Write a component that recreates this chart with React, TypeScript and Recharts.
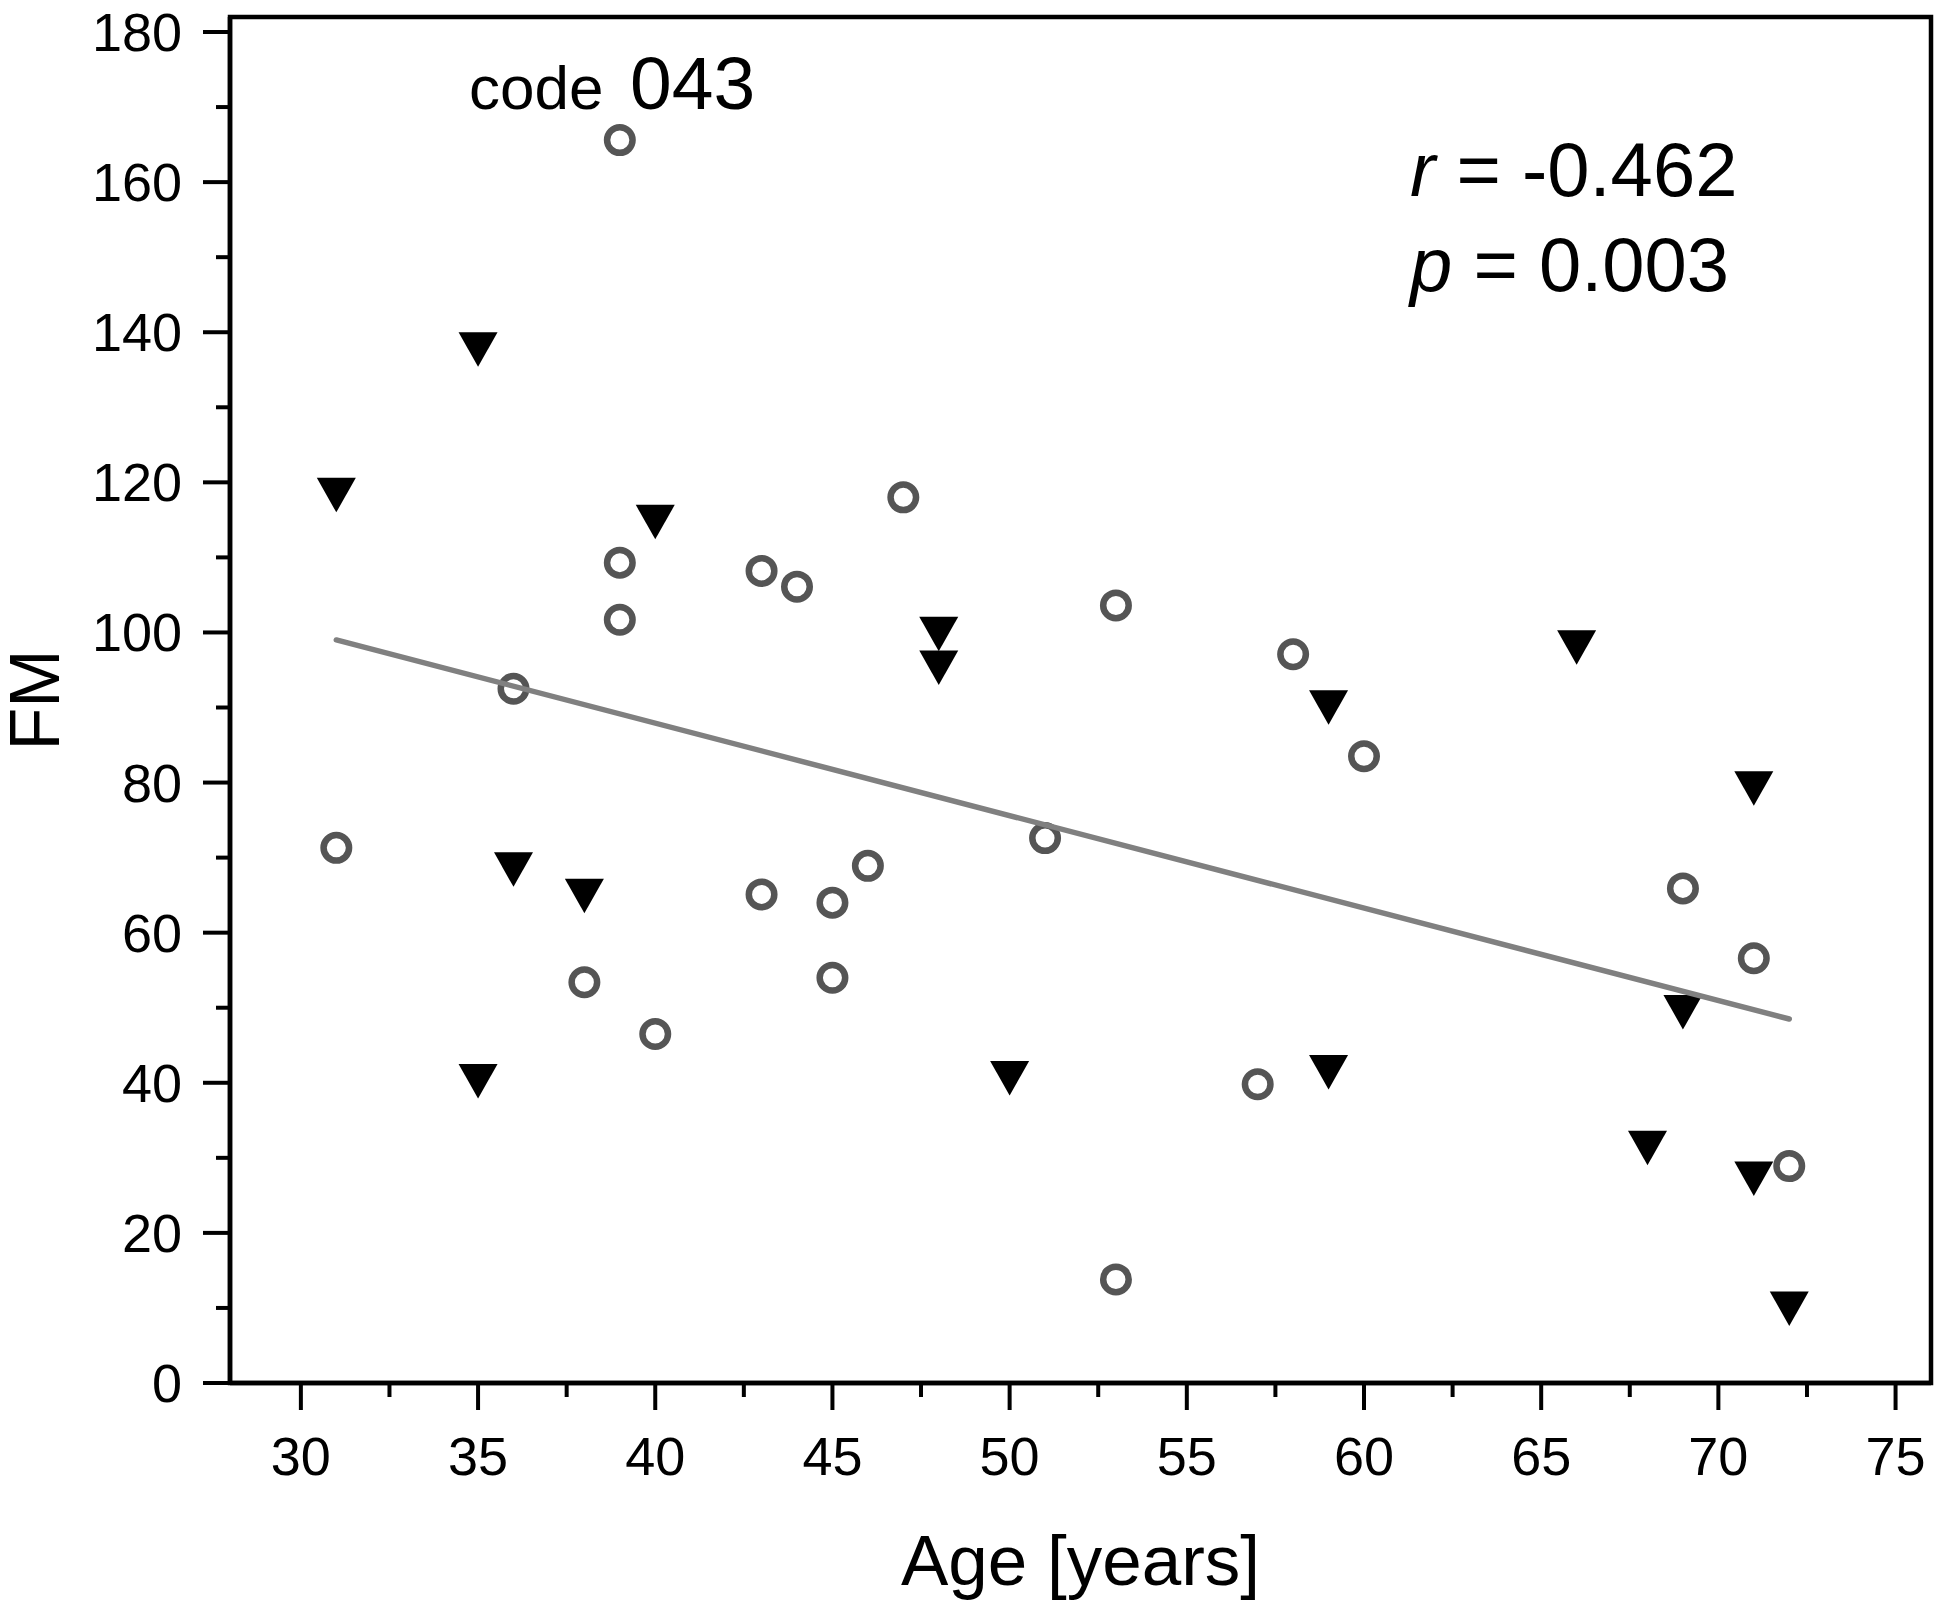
import { ReferenceArea, Scatter, ScatterChart, XAxis, YAxis } from 'recharts'

// open circles (age, FM)
const circleAge = [39, 31, 36, 39, 39, 38, 40, 43, 44, 47, 43, 45, 46, 45, 51, 53, 53, 57, 58, 60, 69, 71, 72]
const circleFM = [165.6, 71.3, 92.5, 109.3, 101.7, 53.4, 46.5, 108.2, 106.1, 118.0, 65.1, 64.0, 68.9, 54.0, 72.6, 103.6, 13.8, 39.8, 97.1, 83.5, 65.9, 56.6, 28.9]

// filled down triangles (age, FM)
const triAge = [31, 35, 40, 48, 48, 36, 38, 35, 50, 59, 59, 66, 71, 69, 68, 71, 72]
const triFM = [118.3, 137.7, 114.7, 99.8, 95.3, 68.4, 64.9, 40.2, 40.6, 90.0, 41.4, 98.0, 79.2, 49.4, 31.3, 27.2, 9.9]

// regression line end points
const fitAge = [31, 72]
const fitFM = [99.0, 48.5]

const xMajor = [30, 35, 40, 45, 50, 55, 60, 65, 70, 75]
const xTicks = [30, 32.5, 35, 37.5, 40, 42.5, 45, 47.5, 50, 52.5, 55, 57.5, 60, 62.5, 65, 67.5, 70, 72.5, 75]
const yMajor = [0, 20, 40, 60, 80, 100, 120, 140, 160, 180]
const yTicks = [0, 10, 20, 30, 40, 50, 60, 70, 80, 90, 100, 110, 120, 130, 140, 150, 160, 170, 180]

const FONT = '"Liberation Sans", Arial, sans-serif'

const circles = circleAge.map((x, i) => ({ x, y: circleFM[i] }))
const triangles = triAge.map((x, i) => ({ x, y: triFM[i] }))
const fit = fitAge.map((x, i) => ({ x, y: fitFM[i] }))

const XTick = ({ x, y, payload }: any) => {
    const major = xMajor.includes(payload.value)
    return (
        <g>
            <line x1={x} x2={x} y1={y} y2={y + (major ? 27 : 14)} stroke="#000" strokeWidth={4} />
            {major && (
                <text x={x} y={y + 92} textAnchor="middle" fontSize={54} fontFamily={FONT} fill="#000">
                    {payload.value}
                </text>
            )}
        </g>
    )
}

const YTick = ({ x, y, payload }: any) => {
    const major = yMajor.includes(payload.value)
    return (
        <g>
            <line x1={x} x2={x - (major ? 27 : 14)} y1={y} y2={y} stroke="#000" strokeWidth={4} />
            {major && (
                <text x={x - 48} y={y + 19} textAnchor="end" fontSize={54} fontFamily={FONT} fill="#000">
                    {payload.value}
                </text>
            )}
        </g>
    )
}

const OpenCircle = ({ cx, cy }: any) => (
    <circle cx={cx} cy={cy} r={12.75} fill="none" stroke="#555555" strokeWidth={6.5} />
)

const DownTriangle = ({ cx, cy }: any) => (
    <path d={`M${cx - 19.5},${cy - 17.25}L${cx + 19.5},${cy - 17.25}L${cx},${cy + 17.25}Z`} fill="#000" />
)

export default function App() {
    return (
        <div style={{ position: 'relative', width: 1939, height: 1608, background: '#fff' }}>
            <style>{`body{margin:0}`}</style>
            <ScatterChart width={1939} height={1608} margin={{ top: 17, right: 8, bottom: 0, left: 0 }}>
                <XAxis
                    type="number"
                    dataKey="x"
                    domain={[28, 76]}
                    ticks={xTicks}
                    interval={0}
                    height={225}
                    tickSize={0}
                    tickMargin={0}
                    tickLine={false}
                    tick={<XTick />}
                    axisLine={{ stroke: '#000', strokeWidth: 4.5 }}
                    label={{ value: 'Age [years]', position: 'insideBottom', offset: 23, fontSize: 71, fontFamily: FONT, fill: '#000' }}
                />
                <YAxis
                    type="number"
                    dataKey="y"
                    domain={[0, 182]}
                    ticks={yTicks}
                    interval={0}
                    width={230}
                    tickSize={0}
                    tickMargin={0}
                    tickLine={false}
                    tick={<YTick />}
                    axisLine={{ stroke: '#000', strokeWidth: 4.5 }}
                    label={{ value: 'FM', angle: -90, position: 'insideLeft', offset: 34, fontSize: 70, fontFamily: FONT, fill: '#000', style: { textAnchor: 'middle' } }}
                />
                <ReferenceArea x1={28} x2={76} y1={0} y2={182} fill="none" stroke="#000" strokeWidth={4.5} />
                <Scatter data={circles} shape={<OpenCircle />} isAnimationActive={false} />
                <Scatter data={triangles} shape={<DownTriangle />} isAnimationActive={false} />
                <Scatter
                    data={fit}
                    line={{ stroke: '#808080', strokeWidth: 5.5, strokeLinecap: 'round' }}
                    shape={() => <g />}
                    isAnimationActive={false}
                />
            </ScatterChart>
            <svg width={1939} height={1608} style={{ position: 'absolute', left: 0, top: 0, pointerEvents: 'none' }}>
                <text x={469} y={109} fontSize={62} fontFamily={FONT} fill="#000">code</text>
                <text x={630} y={109} fontSize={75} fontFamily={FONT} fill="#000">043</text>
                <text x={1410} y={196} fontSize={76} fontFamily={FONT} fill="#000">
                    <tspan fontStyle="italic">r</tspan> = -0.462
                </text>
                <text x={1410} y={291} fontSize={76} fontFamily={FONT} fill="#000">
                    <tspan fontStyle="italic">p</tspan> = 0.003
                </text>
            </svg>
        </div>
    )
}
